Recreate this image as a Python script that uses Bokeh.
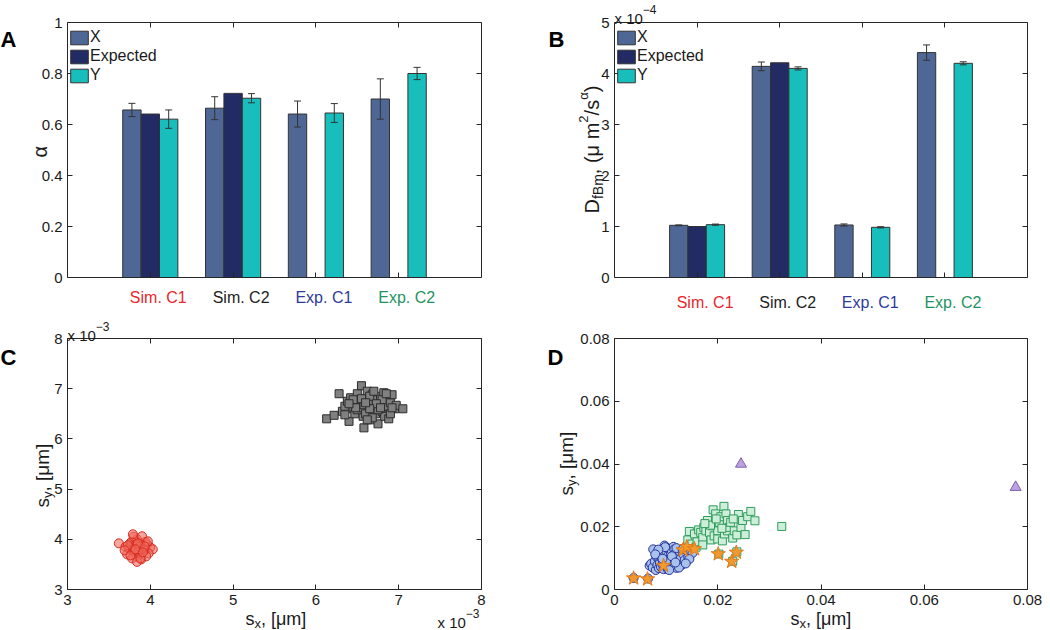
import numpy as np
from bokeh.plotting import figure
from bokeh.models import (Range1d, FixedTicker, LinearAxis, CustomJSTickFormatter, Label,
                          Whisker, ColumnDataSource, TeeHead)
from bokeh.layouts import column, row
from bokeh.embed import file_html
from bokeh.resources import INLINE

FONT = "Liberation Sans"
INK = "#262626"

# ---------------- data ----------------
groups = ["Sim. C1", "Sim. C2", "Exp. C1", "Exp. C2"]
group_colors = ["#e8262b", "#222222", "#2f3b9c", "#1f9463"]
series = ["X", "Expected", "Y"]
series_colors = ["#4e6795", "#232b64", "#18bebc"]

alpha_X = [0.657, 0.664, 0.641, 0.700]
alpha_X_err = [0.026, 0.045, 0.051, 0.079]
alpha_E = [0.641, 0.722]
alpha_Y = [0.621, 0.703, 0.645, 0.800]
alpha_Y_err = [0.036, 0.018, 0.037, 0.024]

D_X = [1.023e-4, 4.14e-4, 1.03e-4, 4.41e-4]
D_X_err = [0.008e-4, 0.085e-4, 0.02e-4, 0.15e-4]
D_E = [1.00e-4, 4.21e-4]
D_Y = [1.036e-4, 4.10e-4, 0.984e-4, 4.20e-4]
D_Y_err = [0.012e-4, 0.03e-4, 0.012e-4, 0.03e-4]

# panel C (values in units of 1e-3 um)
simC1_sx = [3.62, 3.70, 3.75, 3.78, 3.80, 3.82, 3.85, 3.88, 3.90, 3.93,
            3.96, 4.00, 4.03, 3.72, 3.76, 3.79, 3.81, 3.83, 3.84, 3.86,
            3.87, 3.89, 3.91, 3.94, 3.98, 3.74, 3.77, 3.80, 3.82, 3.85,
            3.88, 3.92, 3.95, 3.78, 3.83, 3.86, 3.90, 3.73, 3.81, 3.84,
            3.87, 3.97, 3.69, 3.79, 3.88, 3.93, 3.76, 3.85, 3.82, 3.91]
simC1_sy = [3.92, 3.85, 3.80, 3.88, 3.75, 3.95, 3.82, 3.70, 3.86, 3.78,
            3.90, 3.84, 3.80, 3.70, 3.92, 3.78, 3.85, 3.65, 4.00, 3.88,
            3.76, 3.60, 3.82, 3.95, 3.72, 3.83, 3.95, 4.05, 3.86, 3.74,
            3.92, 3.80, 3.66, 3.62, 3.90, 3.80, 4.06, 3.88, 3.78, 3.55,
            3.85, 3.96, 3.78, 4.10, 3.62, 3.86, 3.68, 3.92, 3.80, 3.74]
simC2_sx = [6.13, 6.22, 6.28, 6.32, 6.35, 6.38, 6.40, 6.42, 6.45, 6.47,
            6.50, 6.52, 6.55, 6.57, 6.58, 6.60, 6.62, 6.63, 6.65, 6.67,
            6.68, 6.70, 6.72, 6.73, 6.75, 6.77, 6.78, 6.80, 6.82, 6.83,
            6.85, 6.87, 6.88, 6.90, 6.92, 6.95, 6.97, 7.05, 6.50, 6.55,
            6.60, 6.65, 6.70, 6.75, 6.45, 6.68, 6.80, 6.58, 6.62, 6.35,
            6.48, 6.73, 6.90, 6.85, 6.55, 6.65, 6.78, 6.40, 6.60, 6.92]
simC2_sy = [6.40, 6.47, 6.90, 6.55, 6.65, 6.75, 6.35, 6.82, 6.60, 6.50,
            6.90, 6.70, 7.06, 6.45, 6.22, 6.80, 6.95, 6.55, 6.70, 6.38,
            6.88, 6.60, 6.50, 6.78, 6.30, 6.68, 6.85, 6.55, 6.92, 6.45,
            6.65, 6.82, 6.40, 6.72, 6.88, 6.60, 6.67, 6.60, 6.58, 6.62,
            6.50, 6.85, 6.95, 6.58, 6.78, 6.42, 6.78, 6.68, 6.38, 6.48,
            6.62, 6.70, 6.50, 6.90, 6.80, 6.60, 6.62, 6.70, 6.72, 6.62]

# panel D (um)
expC1_sx = [0.0037, 0.0065, 0.0068, 0.0071, 0.0074, 0.0075, 0.0078, 0.0080, 0.0081, 0.0083,
            0.0084, 0.0086, 0.0087, 0.0088, 0.0089, 0.0090, 0.0091, 0.0092, 0.0093, 0.0094,
            0.0095, 0.0096, 0.0097, 0.0098, 0.0099, 0.0100, 0.0101, 0.0102, 0.0103, 0.0104,
            0.0105, 0.0106, 0.0107, 0.0108, 0.0109, 0.0110, 0.0111, 0.0112, 0.0113, 0.0114,
            0.0115, 0.0116, 0.0117, 0.0118, 0.0119, 0.0120, 0.0122, 0.0124, 0.0126, 0.0128,
            0.0130, 0.0133, 0.0136, 0.0140, 0.0143, 0.0147, 0.0151, 0.0145, 0.0125, 0.0098,
            0.0085, 0.0120, 0.0132, 0.0079, 0.0106, 0.0138, 0.0100, 0.0111, 0.0093, 0.0118]
expC1_sy = [0.0037, 0.0035, 0.0076, 0.0082, 0.0070, 0.0128, 0.0090, 0.0062, 0.0105, 0.0078,
            0.0118, 0.0068, 0.0095, 0.0085, 0.0110, 0.0072, 0.0100, 0.0125, 0.0080, 0.0092,
            0.0065, 0.0115, 0.0140, 0.0088, 0.0102, 0.0076, 0.0120, 0.0094, 0.0065, 0.0108,
            0.0084, 0.0130, 0.0098, 0.0072, 0.0112, 0.0090, 0.0124, 0.0080, 0.0104, 0.0136,
            0.0094, 0.0128, 0.0075, 0.0116, 0.0100, 0.0069, 0.0110, 0.0088, 0.0122, 0.0098,
            0.0078, 0.0112, 0.0094, 0.0140, 0.0104, 0.0124, 0.0116, 0.0097, 0.0070, 0.0135,
            0.0127, 0.0132, 0.0128, 0.0112, 0.0062, 0.0083, 0.0090, 0.0106, 0.0098, 0.0086]
expC2_sx = [0.0142, 0.0145, 0.0150, 0.0155, 0.0158, 0.0160, 0.0163, 0.0167, 0.0171, 0.0171,
            0.0173, 0.0177, 0.0180, 0.0184, 0.0187, 0.0190, 0.0191, 0.0193, 0.0196, 0.0200,
            0.0200, 0.0203, 0.0206, 0.0209, 0.0212, 0.0213, 0.0216, 0.0219, 0.0219, 0.0222,
            0.0225, 0.0229, 0.0232, 0.0237, 0.0240, 0.0245, 0.0248, 0.0253, 0.0258, 0.0264,
            0.0272, 0.0324, 0.0202, 0.0229, 0.0237, 0.0186, 0.0208, 0.0175, 0.0230, 0.0197]
expC2_sy = [0.0158, 0.0185, 0.0145, 0.0177, 0.0135, 0.0152, 0.0190, 0.0182, 0.0166, 0.0142,
            0.0198, 0.0187, 0.0220, 0.0182, 0.0158, 0.0203, 0.0254, 0.0171, 0.0241, 0.0187,
            0.0161, 0.0214, 0.0232, 0.0155, 0.0265, 0.0177, 0.0241, 0.0220, 0.0187, 0.0198,
            0.0214, 0.0164, 0.0187, 0.0174, 0.0239, 0.0198, 0.0220, 0.0175, 0.0232, 0.0249,
            0.0219, 0.0201, 0.0113, 0.0090, 0.0120, 0.0205, 0.0195, 0.0210, 0.0225, 0.0225]
star_sx = [0.0037, 0.0064, 0.0095, 0.0133, 0.0140, 0.0155, 0.0201, 0.0227, 0.0236]
star_sy = [0.0036, 0.0033, 0.0076, 0.0126, 0.0136, 0.0129, 0.0113, 0.0089, 0.0118]
tri_sx = [0.0245, 0.0777]
tri_sy = [0.0400, 0.0326]

# ---------------- helpers ----------------
CW = {' ': 278, ',': 278, '(': 333, ')': 333, '[': 278, ']': 278, '/': 278, '.': 278,
      'D': 722, 'f': 278, 'B': 667, 'm': 833, 's': 500, 'x': 500, 'y': 500, 'μ': 576,
      'α': 580, '−': 584, '-': 333}


def tw(text, size):
    return sum(CW.get(c, 556) for c in text) * size / 1000.0


class Panel:
    """A figure whose frame fills the whole canvas; the visible box is drawn by
    four axes placed at fixed data locations."""

    def __init__(self, canvas, box, xr, yr):
        cx0, cy0, cx1, cy1 = canvas      # page px
        l, r, t, b = box                 # page px of the axes box
        self.box, self.xr, self.yr = box, xr, yr
        self.sx = (xr[1] - xr[0]) / (r - l)
        self.sy = (yr[1] - yr[0]) / (b - t)
        x_start = xr[0] - (l - cx0) * self.sx
        x_end = xr[1] + (cx1 - r) * self.sx
        y_start = yr[0] - (cy1 - b) * self.sy
        y_end = yr[1] + (t - cy0) * self.sy
        self.canvas = canvas
        p = figure(width=cx1 - cx0, height=cy1 - cy0, min_border=0,
                   min_border_left=0, min_border_right=0, min_border_top=0,
                   min_border_bottom=0, x_range=Range1d(x_start, x_end),
                   y_range=Range1d(y_start, y_end), output_backend="svg",
                   toolbar_location=None, tools="", x_axis_location=None,
                   y_axis_location=None)
        p.outline_line_color = None
        p.grid.visible = False
        p.background_fill_color = "white"
        p.border_fill_color = "white"
        self.p = p

    def to_data(self, px, py):
        l, r, t, b = self.box
        return self.xr[0] + (px - l) * self.sx, self.yr[0] + (b - py) * self.sy

    def text(self, px, py, text, size, color="#1a1a1a", bold=False, align="left",
             baseline="alphabetic", angle=0.0):
        x, y = self.to_data(px, py)
        self.p.add_layout(Label(x=x, y=y, text=text, text_font=FONT,
                                text_font_size=f"{size}px", text_color=color,
                                text_font_style="bold" if bold else "normal",
                                text_align=align, text_baseline=baseline, angle=angle))

    def rich(self, px, py, parts, vertical=False, color="#1a1a1a"):
        adv = 0.0
        for txt, size, shift in parts:
            if vertical:
                self.text(px - shift, py - adv, txt, size, color=color, angle=np.pi / 2)
            else:
                self.text(px + adv, py - shift, txt, size, color=color)
            adv += tw(txt, size)

    def axes(self, xticks, yticks, xfmt, yfmt):
        p = self.p
        spec = [("below", xticks, self.yr[0], self.xr, xfmt),
                ("above", xticks, self.yr[1], self.xr, "return ''"),
                ("left", yticks, self.xr[0], self.yr, yfmt),
                ("right", yticks, self.xr[1], self.yr, "return ''")]
        for loc, ticks, fixed, bounds, fmt in spec:
            ax = LinearAxis(fixed_location=fixed, bounds=tuple(bounds),
                            ticker=FixedTicker(ticks=ticks),
                            formatter=CustomJSTickFormatter(code=fmt),
                            major_tick_in=5, major_tick_out=0, minor_tick_line_color=None,
                            axis_line_color=INK, axis_line_width=1,
                            major_tick_line_color=INK,
                            major_label_text_font=FONT, major_label_text_font_size="15px",
                            major_label_text_color="#1a1a1a", major_label_standoff=5)
            p.add_layout(ax, loc)


def bar_panel(panel, xv, xe, ev, yv, ye, label_y):
    p = panel.p
    w = 0.222
    gx = np.arange(1, len(groups) + 1, dtype=float)
    data_sets = [(xv, xe), (ev, None), (yv, ye)]
    offs = [-w, 0.0, w]
    for (vals, errs), off, name, col in zip(data_sets, offs, series, series_colors):
        xs = gx[:len(vals)] + off
        p.vbar(x=xs, top=vals, bottom=0, width=w, fill_color=col, line_color="#333333",
               line_width=1, legend_label=name)
        if errs is not None:
            v = np.array(vals)
            e = np.array(errs)
            src = ColumnDataSource(dict(x=xs, upper=v + e, lower=v - e))
            p.add_layout(Whisker(source=src, base="x", upper="upper", lower="lower",
                                 level="overlay", line_color="#333333", line_width=1,
                                 upper_head=TeeHead(size=7, line_color="#333333", line_width=1),
                                 lower_head=TeeHead(size=7, line_color="#333333", line_width=1)))
    l, r, t, b = panel.box
    cx0, cy0, cx1, cy1 = panel.canvas
    lg = p.legend[0]
    lg.padding = 4
    lg.spacing = 1
    lg.glyph_width = 22
    lg.glyph_height = 17
    lg.label_height = 17
    lg.label_standoff = 0
    lg.margin = 0
    lg.label_text_font = FONT
    lg.label_text_font_size = "16px"
    lg.label_text_color = "#1a1a1a"
    lg.border_line_color = None
    lg.background_fill_alpha = 0
    legend_h = 2 * 4 + 3 * 17 + 2 * 1
    lg.location = (l - cx0 + 1, cy1 - (t + 1) - legend_h)
    for i, (g, c) in enumerate(zip(groups, group_colors)):
        px = l + (i + 1) / 5.0 * (r - l) + 8
        panel.text(px, label_y, g, 16, color=c, align="center")


# ---------------- panel A ----------------
A = Panel((0, 0, 525, 315), (67, 481, 22, 277), (0, 5), (0, 1))
A.axes([1, 2, 3, 4], [0, 0.2, 0.4, 0.6, 0.8, 1.0], "return ''",
       "return tick==0 ? '0' : (tick>0.999 ? '1' : tick.toFixed(1))")
bar_panel(A, alpha_X, alpha_X_err, alpha_E, alpha_Y, alpha_Y_err, 297)
A.text(39, 157, "α", 20, angle=np.pi / 2)
A.text(0, 39, "A", 22, color="#000000", bold=True)

# ---------------- panel B ----------------
B = Panel((525, 0, 1050, 315), (614, 1027, 22, 277), (0, 5), (0, 5e-4))
B.axes([1, 2, 3, 4], [0, 1e-4, 2e-4, 3e-4, 4e-4, 5e-4], "return ''",
       "return (tick*1e4).toFixed(0)")
bar_panel(B, D_X, D_X_err, D_E, D_Y, D_Y_err, 302)
B.rich(591, 213, [("D", 20, 0), ("fBm", 14, -6), (", (μ m", 20, 0), ("2", 13, 8),
                  ("/s", 20, 0), ("α", 13, 8), (")", 20, 0)], vertical=True)
B.text(614, 18, "x 10", 15)
B.text(614 + tw("x 10", 15), 9, "−4", 12)
B.text(548, 39, "B", 22, color="#000000", bold=True)

# ---------------- panel C ----------------
C = Panel((0, 315, 525, 630), (67, 481, 338, 589), (3e-3, 8e-3), (3e-3, 8e-3))
cticks = [3e-3, 4e-3, 5e-3, 6e-3, 7e-3, 8e-3]
C.axes(cticks, cticks, "return (tick*1e3).toFixed(0)", "return (tick*1e3).toFixed(0)")
C.p.scatter(x=np.array(simC1_sx) * 1e-3, y=np.array(simC1_sy) * 1e-3, marker="circle",
            size=9, fill_color="#ee6a5e", fill_alpha=0.6, line_color="#d92a1e", line_width=1)
C.p.scatter(x=np.array(simC2_sx) * 1e-3, y=np.array(simC2_sy) * 1e-3, marker="square",
            size=8, fill_color="#808080", line_color="#2b2b2b", line_width=1)
C.rich(245, 618, [("s", 18, 0), ("x", 13, -5), (", [μm]", 18, 0)])
C.rich(42, 507, [("s", 19, 0), ("y", 13, -5), (", [μm]", 19, 0)], vertical=True)
C.text(67, 335, "x 10", 15)
C.text(67 + tw("x 10", 15), 326, "−3", 12)
C.text(437, 622, "x 10", 15)
C.text(437 + tw("x 10", 15), 613, "−3", 12)
C.text(0, 357, "C", 22, color="#000000", bold=True)

# ---------------- panel D ----------------
D = Panel((525, 315, 1050, 630), (614, 1027, 338, 589), (0, 0.08), (0, 0.08))
dt = [0, 0.02, 0.04, 0.06, 0.08]
dfmt = "return tick==0 ? '0' : tick.toFixed(2)"
D.axes(dt, dt, dfmt, dfmt)
D.p.scatter(x=expC1_sx, y=expC1_sy, marker="circle", size=9, fill_color="#a8c2ec",
            line_color="#27329a", line_width=1)
D.p.scatter(x=expC2_sx, y=expC2_sy, marker="square", size=8, fill_color="#cdeed8",
            line_color="#2e9c5c", line_width=1)
D.p.scatter(x=tri_sx, y=tri_sy, marker="triangle", size=11, fill_color="#bba2de",
            line_color="#7e5fb0", line_width=1)
D.p.scatter(x=star_sx, y=star_sy, marker="star", size=15, fill_color="#f39a2e",
            line_color="#e07a18", line_width=1)
D.rich(790, 618, [("s", 18, 0), ("x", 13, -5), (", [μm]", 18, 0)])
D.rich(566, 495, [("s", 19, 0), ("y", 13, -5), (", [μm]", 19, 0)], vertical=True)
D.text(547, 357, "D", 22, color="#000000", bold=True)

layout = column(row(A.p, B.p), row(C.p, D.p))
open("out.html", "w").write(file_html(layout, INLINE))
